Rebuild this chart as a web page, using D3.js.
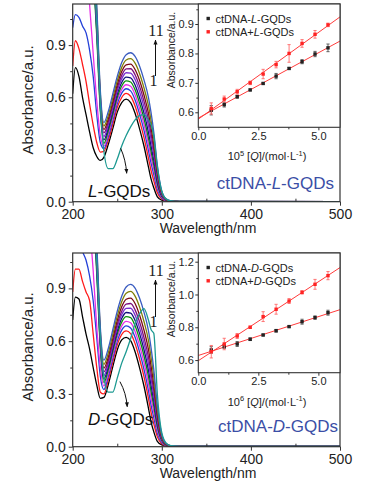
<!DOCTYPE html>
<html>
<head>
<meta charset="utf-8">
<script src="https://cdn.jsdelivr.net/npm/d3@7"></script>
<style>
  body { margin: 0; background: #fff; }
  svg { display: block; font-family: "Liberation Sans", Arial, sans-serif; }
</style>
</head>
<body>
<svg id="chart" width="366" height="497"></svg>
<script>
// wavelength grid (nm) shared by every spectrum
const wavelengths = [200, 203, 207, 211, 215, 219, 223, 227, 231, 235, 240, 245, 250, 255, 260, 265, 270, 275, 280, 285, 288, 291, 295, 300, 305, 310, 320, 500];

// ctDNA + L-GQDs titration, curves 1..11
const lCurves = [
  [0.62, 0.77, 0.72, 0.60, 0.50, 0.40, 0.31, 0.26, 0.237, 0.255, 0.33, 0.42, 0.515, 0.57, 0.589, 0.57, 0.508, 0.42, 0.32, 0.20, 0.13, 0.08, 0.028, 0.009, 0.004, 0.002, 0.001, 0.001],
  [0.78, 0.925, 0.88, 0.79, 0.69, 0.56, 0.44, 0.34, 0.285, 0.29, 0.354, 0.445, 0.541, 0.599, 0.622, 0.606, 0.55, 0.466, 0.368, 0.251, 0.178, 0.121, 0.051, 0.015, 0.005, 0.002, 0.001, 0.001],
  [1.0, 1.075, 1.06, 1.01, 0.97, 0.87, 0.72, 0.50, 0.34, 0.305, 0.375, 0.467, 0.563, 0.624, 0.649, 0.637, 0.585, 0.505, 0.41, 0.294, 0.22, 0.156, 0.071, 0.021, 0.006, 0.003, 0.001, 0.001],
  [1.7, 1.7, 1.65, 1.55, 1.38, 1.13, 0.85, 0.58, 0.38, 0.32, 0.392, 0.485, 0.582, 0.645, 0.672, 0.663, 0.615, 0.537, 0.444, 0.33, 0.254, 0.184, 0.087, 0.026, 0.007, 0.003, 0.001, 0.001],
  [1.7, 1.7, 1.7, 1.7, 1.65, 1.5, 1.3, 0.95, 0.52, 0.335, 0.408, 0.502, 0.599, 0.665, 0.694, 0.688, 0.643, 0.568, 0.477, 0.365, 0.287, 0.212, 0.103, 0.03, 0.008, 0.003, 0.001, 0.001],
  [1.7, 1.7, 1.7, 1.7, 1.66, 1.52, 1.33, 0.98, 0.54, 0.355, 0.425, 0.52, 0.617, 0.685, 0.716, 0.712, 0.671, 0.599, 0.509, 0.399, 0.319, 0.239, 0.119, 0.034, 0.009, 0.003, 0.001, 0.001],
  [1.7, 1.7, 1.7, 1.7, 1.67, 1.54, 1.36, 1.01, 0.56, 0.375, 0.442, 0.538, 0.636, 0.706, 0.741, 0.739, 0.702, 0.633, 0.545, 0.437, 0.355, 0.269, 0.136, 0.039, 0.01, 0.004, 0.002, 0.001],
  [1.7, 1.7, 1.7, 1.7, 1.68, 1.56, 1.39, 1.04, 0.58, 0.395, 0.459, 0.556, 0.654, 0.726, 0.763, 0.764, 0.73, 0.664, 0.578, 0.471, 0.388, 0.297, 0.151, 0.044, 0.011, 0.004, 0.002, 0.001],
  [1.7, 1.7, 1.7, 1.7, 1.69, 1.58, 1.42, 1.07, 0.60, 0.415, 0.477, 0.574, 0.673, 0.748, 0.787, 0.791, 0.76, 0.698, 0.613, 0.509, 0.423, 0.327, 0.168, 0.048, 0.012, 0.004, 0.002, 0.001],
  [1.7, 1.7, 1.7, 1.7, 1.7, 1.6, 1.45, 1.10, 0.62, 0.435, 0.497, 0.596, 0.695, 0.772, 0.814, 0.822, 0.796, 0.737, 0.654, 0.552, 0.464, 0.362, 0.188, 0.054, 0.013, 0.005, 0.002, 0.001],
  [1.7, 1.7, 1.7, 1.7, 1.7, 1.62, 1.48, 1.13, 0.64, 0.455, 0.52, 0.62, 0.72, 0.80, 0.845, 0.856, 0.835, 0.78, 0.70, 0.60, 0.51, 0.40, 0.21, 0.06, 0.015, 0.005, 0.002, 0.001]
];
const lFree = [1.7, 1.7, 1.7, 1.7, 1.7, 1.6, 1.4, 1.02, 0.56, 0.29, 0.19, 0.19, 0.245, 0.32, 0.38, 0.43, 0.47, 0.495, 0.50, 0.47, 0.44, 0.38, 0.20, 0.06, 0.015, 0.005, 0.002, 0.001];

// ctDNA + D-GQDs titration, curves 1..11
const dCurves = [
  [0.72, 0.85, 0.84, 0.74, 0.64, 0.555, 0.45, 0.35, 0.275, 0.28, 0.355, 0.455, 0.55, 0.607, 0.622, 0.603, 0.54, 0.45, 0.345, 0.22, 0.14, 0.085, 0.03, 0.01, 0.004, 0.002, 0.001, 0.001],
  [0.88, 1.01, 1.01, 0.94, 0.88, 0.83, 0.64, 0.45, 0.31, 0.30, 0.381, 0.481, 0.578, 0.638, 0.658, 0.643, 0.586, 0.50, 0.398, 0.275, 0.193, 0.13, 0.056, 0.017, 0.005, 0.002, 0.001, 0.001],
  [1.3, 1.25, 1.18, 1.11, 1.06, 0.97, 0.83, 0.62, 0.40, 0.325, 0.401, 0.502, 0.60, 0.663, 0.687, 0.675, 0.622, 0.539, 0.44, 0.319, 0.235, 0.165, 0.076, 0.023, 0.006, 0.003, 0.001, 0.001],
  [1.7, 1.7, 1.65, 1.55, 1.42, 1.25, 1.0, 0.68, 0.45, 0.345, 0.42, 0.522, 0.62, 0.686, 0.713, 0.705, 0.655, 0.576, 0.479, 0.36, 0.274, 0.198, 0.095, 0.029, 0.008, 0.003, 0.001, 0.001],
  [1.7, 1.7, 1.7, 1.7, 1.65, 1.5, 1.35, 0.98, 0.56, 0.365, 0.439, 0.541, 0.64, 0.708, 0.739, 0.734, 0.688, 0.612, 0.517, 0.40, 0.312, 0.23, 0.114, 0.034, 0.009, 0.003, 0.001, 0.001],
  [1.7, 1.7, 1.7, 1.7, 1.66, 1.52, 1.38, 1.01, 0.58, 0.385, 0.456, 0.558, 0.658, 0.729, 0.763, 0.76, 0.718, 0.644, 0.552, 0.436, 0.347, 0.26, 0.131, 0.039, 0.01, 0.004, 0.002, 0.001],
  [1.7, 1.7, 1.7, 1.7, 1.67, 1.54, 1.41, 1.04, 0.60, 0.405, 0.473, 0.576, 0.677, 0.75, 0.786, 0.787, 0.748, 0.677, 0.587, 0.473, 0.382, 0.289, 0.148, 0.043, 0.011, 0.004, 0.002, 0.001],
  [1.7, 1.7, 1.7, 1.7, 1.68, 1.56, 1.44, 1.07, 0.62, 0.425, 0.49, 0.593, 0.695, 0.77, 0.81, 0.814, 0.778, 0.71, 0.621, 0.51, 0.416, 0.319, 0.165, 0.048, 0.012, 0.004, 0.002, 0.001],
  [1.7, 1.7, 1.7, 1.7, 1.69, 1.58, 1.47, 1.10, 0.64, 0.447, 0.51, 0.614, 0.717, 0.795, 0.838, 0.845, 0.814, 0.749, 0.663, 0.553, 0.458, 0.354, 0.185, 0.054, 0.013, 0.005, 0.002, 0.001],
  [1.7, 1.7, 1.7, 1.7, 1.7, 1.6, 1.5, 1.13, 0.66, 0.468, 0.534, 0.639, 0.742, 0.824, 0.872, 0.883, 0.856, 0.795, 0.712, 0.605, 0.507, 0.395, 0.209, 0.061, 0.015, 0.005, 0.002, 0.001],
  [1.7, 1.7, 1.7, 1.7, 1.7, 1.62, 1.53, 1.16, 0.68, 0.492, 0.56, 0.665, 0.77, 0.855, 0.908, 0.923, 0.902, 0.845, 0.765, 0.66, 0.56, 0.44, 0.235, 0.068, 0.017, 0.006, 0.002, 0.001]
];
const dFree = [1.7, 1.7, 1.7, 1.7, 1.7, 1.6, 1.42, 1.05, 0.62, 0.40, 0.31, 0.31, 0.39, 0.475, 0.54, 0.615, 0.70, 0.755, 0.785, 0.72, 0.665, 0.645, 0.30, 0.08, 0.02, 0.006, 0.002, 0.001];

const curveColors = ["#000000", "#ff1a1a", "#2340d8", "#e62ee6", "#0a8f0a", "#10107a", "#7a2fd0", "#7d0f7d", "#7a0a14", "#7f7f08", "#3a5cc0"];
const freeColor = "#1e9a92";

// insets: absorbance vs concentration
const conc = [0.54, 1.08, 1.62, 2.16, 2.70, 3.24, 3.78, 4.32, 4.86, 5.40];
const lBound = [0.607, 0.626, 0.653, 0.676, 0.698, 0.723, 0.749, 0.772, 0.798, 0.819];
const lBoundErr = [0.016, 0.008, 0.005, 0.003, 0.003, 0.009, 0.003, 0.007, 0.009, 0.013];
const lMixed = [0.613, 0.645, 0.670, 0.700, 0.730, 0.762, 0.800, 0.834, 0.865, 0.897];
const lMixedErr = [0.019, 0.010, 0.008, 0.006, 0.016, 0.011, 0.03, 0.013, 0.013, 0.006];
const dBound = [0.662, 0.682, 0.698, 0.727, 0.753, 0.779, 0.804, 0.834, 0.859, 0.889];
const dBoundErr = [0.02, 0.01, 0.015, 0.008, 0.005, 0.008, 0.005, 0.015, 0.01, 0.015];
const dMixed = [0.651, 0.698, 0.747, 0.800, 0.865, 0.910, 0.960, 1.013, 1.062, 1.115];
const dMixedErr = [0.038, 0.035, 0.015, 0.007, 0.03, 0.03, 0.015, 0.01, 0.03, 0.025];

const svg = d3.select("#chart");
const defs = svg.append("defs");
defs.append("marker").attr("id", "head").attr("viewBox", "0 0 10 10")
  .attr("refX", 9).attr("refY", 5).attr("markerWidth", 5).attr("markerHeight", 5)
  .attr("orient", "auto-start-reverse")
  .append("path").attr("d", "M0,1L10,5L0,9z").attr("fill", "#111");

function styleAxis(sel, size) {
  sel.select(".domain").remove();
  sel.selectAll("line").attr("stroke", "#333");
  sel.selectAll("text").attr("font-size", size).attr("fill", "#222");
}

function fit(xs, ys) {
  const mx = d3.mean(xs), my = d3.mean(ys);
  const b = d3.sum(xs, (v, i) => (v - mx) * (ys[i] - my)) / d3.sum(xs, v => (v - mx) * (v - mx));
  return { b, a: my - b * mx };
}

function drawInset(p, idx) {
  const x = d3.scaleLinear().domain([0, 5.9]).range([198.3, 340]);
  const y = d3.scaleLinear().domain(p.yDomain).range([p.bottom, p.top]);
  const g = svg.append("g");
  g.append("rect").attr("x", 198.3).attr("y", p.top).attr("width", 340 - 198.3)
    .attr("height", p.bottom - p.top).attr("fill", "#fff");

  const clipId = "iclip" + idx;
  defs.append("clipPath").attr("id", clipId).append("rect")
    .attr("x", 198.3).attr("y", p.top).attr("width", 340 - 198.3).attr("height", p.bottom - p.top);
  const plot = g.append("g").attr("clip-path", `url(#${clipId})`);

  const series = [
    { vals: p.bound, err: p.boundErr, color: "#222", errColor: "#555" },
    { vals: p.mixed, err: p.mixedErr, color: "#ff2323", errColor: "#ff6a6a" }
  ];
  series.forEach(s => {
    const f = fit(conc, s.vals);
    plot.append("line")
      .attr("x1", x(0)).attr("y1", y(f.a))
      .attr("x2", x(5.9)).attr("y2", y(f.a + f.b * 5.9))
      .attr("stroke", "#ff3b3b").attr("stroke-width", 1);
  });
  series.forEach(s => {
    const pts = plot.append("g");
    conc.forEach((c, i) => {
      const cx = x(c), lo = y(s.vals[i] - s.err[i]), hi = y(s.vals[i] + s.err[i]);
      pts.append("line").attr("x1", cx).attr("x2", cx).attr("y1", lo).attr("y2", hi)
        .attr("stroke", s.errColor).attr("stroke-width", 0.9);
      [lo, hi].forEach(v => pts.append("line").attr("x1", cx - 1.6).attr("x2", cx + 1.6)
        .attr("y1", v).attr("y2", v).attr("stroke", s.errColor).attr("stroke-width", 0.9));
      pts.append("rect").attr("x", cx - 1.7).attr("y", y(s.vals[i]) - 1.7)
        .attr("width", 3.4).attr("height", 3.4).attr("fill", s.color);
    });
  });

  // axes
  g.append("g").attr("transform", `translate(0,${p.bottom})`)
    .call(d3.axisBottom(x).tickValues([0, 2.5, 5.0]).tickSize(3).tickPadding(2).tickFormat(d3.format(".1f")))
    .call(a => styleAxis(a, 11));
  g.append("g").attr("transform", `translate(0,${p.bottom})`)
    .call(d3.axisBottom(x).tickValues([1.25, 3.75]).tickSize(2).tickFormat(""))
    .call(a => styleAxis(a, 11));
  g.append("g").attr("transform", "translate(198.3,0)")
    .call(d3.axisLeft(y).tickValues(p.yTicks).tickSize(3).tickPadding(1.5).tickFormat(d3.format(".1f")))
    .call(a => styleAxis(a, 11));
  g.append("g").attr("transform", "translate(198.3,0)")
    .call(d3.axisLeft(y).tickValues(p.yMinor).tickSize(2).tickFormat(""))
    .call(a => styleAxis(a, 11));
  g.append("rect").attr("x", 198.3).attr("y", p.top).attr("width", 340 - 198.3)
    .attr("height", p.bottom - p.top).attr("fill", "none").attr("stroke", "#333").attr("stroke-width", 1.1);

  // axis titles
  g.append("text").attr("transform", `translate(175,${p.top + 46}) rotate(-90)`)
    .attr("text-anchor", "middle").attr("font-size", 10.5).attr("fill", "#222").text("Absorbance/a.u.");
  const xt = g.append("text").attr("x", 267).attr("y", p.bottom + 33)
    .attr("text-anchor", "middle").attr("font-size", 11).attr("fill", "#222");
  xt.append("tspan").text("10");
  xt.append("tspan").attr("font-size", 7.5).attr("dy", -4.5).text(p.power);
  xt.append("tspan").attr("dy", 4.5).text(" [");
  xt.append("tspan").attr("font-style", "italic").text("Q");
  xt.append("tspan").text("]/(mol·L");
  xt.append("tspan").attr("font-size", 7.5).attr("dy", -4.5).text("-1");
  xt.append("tspan").attr("dy", 4.5).text(")");

  // legend
  const legend = [
    { color: "#222", pre: "ctDNA-", mid: p.letter, post: "-GQDs" },
    { color: "#ff2323", pre: "ctDNA+", mid: p.letter, post: "-GQDs" }
  ];
  legend.forEach((l, i) => {
    const ly = p.top + 14.5 + i * 13.3;
    g.append("rect").attr("x", 206.5).attr("y", ly - 1.7).attr("width", 3.4).attr("height", 3.4).attr("fill", l.color);
    const t = g.append("text").attr("x", 215.5).attr("y", ly + 4).attr("font-size", 11).attr("fill", "#222");
    t.append("tspan").text(l.pre);
    t.append("tspan").attr("font-style", "italic").text(l.mid);
    t.append("tspan").text(l.post);
  });
}

function drawPanel(p, idx) {
  const x = d3.scaleLinear().domain([200, 500]).range([72.7, 340]);
  const y = d3.scaleLinear().domain([0, p.yMax]).range([p.bottom, p.top]);
  const g = svg.append("g");

  const clipId = "clip" + idx;
  defs.append("clipPath").attr("id", clipId).append("rect")
    .attr("x", 72.7).attr("y", p.top).attr("width", 340 - 72.7).attr("height", p.bottom - p.top);
  const plot = g.append("g").attr("clip-path", `url(#${clipId})`);
  const line = d3.line()
    .x((d, i) => x(wavelengths[i]))
    .y(d => y(d))
    .curve(d3.curveMonotoneX);

  p.curves.forEach((c, i) => {
    plot.append("path").attr("d", line(c)).attr("fill", "none")
      .attr("stroke", curveColors[i]).attr("stroke-width", 1.3);
  });
  plot.append("path").attr("d", line(p.free)).attr("fill", "none")
    .attr("stroke", freeColor).attr("stroke-width", 1.3);

  // axes
  g.append("g").attr("transform", `translate(0,${p.bottom})`)
    .call(d3.axisBottom(x).tickValues([200, 300, 400, 500]).tickSize(4).tickPadding(3).tickFormat(d3.format("d")))
    .call(a => styleAxis(a, 14));
  g.append("g").attr("transform", `translate(0,${p.bottom})`)
    .call(d3.axisBottom(x).tickValues([250, 350, 450]).tickSize(-3).tickFormat(""))
    .call(a => styleAxis(a, 14));
  g.append("g").attr("transform", "translate(72.7,0)")
    .call(d3.axisLeft(y).tickValues([0, 0.3, 0.6, 0.9]).tickSize(4).tickPadding(3).tickFormat(d3.format(".1f")))
    .call(a => styleAxis(a, 14));
  g.append("g").attr("transform", "translate(72.7,0)")
    .call(d3.axisLeft(y).tickValues([0.15, 0.45, 0.75, 1.05]).tickSize(2.5).tickFormat(""))
    .call(a => styleAxis(a, 14));
  g.append("rect").attr("x", 72.7).attr("y", p.top).attr("width", 340 - 72.7)
    .attr("height", p.bottom - p.top).attr("fill", "none").attr("stroke", "#333").attr("stroke-width", 1.2);

  g.append("text").attr("x", 208).attr("y", p.bottom + 31).attr("text-anchor", "middle")
    .attr("font-size", 14).attr("fill", "#222").text("Wavelength/nm");
  g.append("text").attr("transform", `translate(33,${(p.top + p.bottom) / 2 - 3}) rotate(-90)`)
    .attr("text-anchor", "middle").attr("font-size", 15).attr("fill", "#222").text("Absorbance/a.u.");

  // curve numbering arrow
  g.append("line").attr("x1", 155.5).attr("x2", 155.5).attr("y1", p.top + p.arrowFrom).attr("y2", p.top + p.arrowTo)
    .attr("stroke", "#111").attr("stroke-width", 1).attr("marker-end", "url(#head)");
  g.append("text").attr("x", 156).attr("y", p.top + p.arrowTo - 4).attr("text-anchor", "middle")
    .attr("font-family", '"Liberation Serif", "Times New Roman", serif').attr("font-size", 16).attr("fill", "#222").text("11");
  g.append("text").attr("x", 153.5).attr("y", p.top + p.arrowFrom + 10).attr("text-anchor", "middle")
    .attr("font-family", '"Liberation Serif", "Times New Roman", serif').attr("font-size", 16).attr("fill", "#222").text("1");

  // arrow from free GQDs curve to its label
  const [s, e] = p.freeArrow;
  const sx = x(s[0]), sy = y(s[1]), ex = x(e[0]), ey = y(e[1]);
  g.append("path").attr("d", `M${sx},${sy}Q${ex - 1},${sy + (ey - sy) * 0.45} ${ex},${ey}`)
    .attr("fill", "none").attr("stroke", "#111").attr("stroke-width", 1).attr("marker-end", "url(#head)");

  const lab = g.append("text").attr("x", 88).attr("y", p.freeLabelY).attr("font-size", 17).attr("fill", "#111");
  lab.append("tspan").attr("font-style", "italic").text(p.letter);
  lab.append("tspan").text("-GQDs");

  const title = g.append("text").attr("x", p.titleX).attr("y", p.titleY).attr("text-anchor", "end")
    .attr("font-size", 17).attr("fill", "#3b4ea6");
  title.append("tspan").text("ctDNA-");
  title.append("tspan").attr("font-style", "italic").text(p.letter);
  title.append("tspan").text("-GQDs");

  drawInset(p.inset, idx);
}

drawPanel({
  top: 4, bottom: 201.7, yMax: (201.7 - 4) / 174,
  curves: lCurves, free: lFree, letter: "L",
  arrowFrom: 72, arrowTo: 36,
  freeArrow: [[253.8, 0.307], [260.6, 0.163]],
  freeLabelY: 196.5, titleX: 334, titleY: 188.5,
  inset: {
    top: 4, bottom: 127.3, yDomain: [0.549, 0.968],
    yTicks: [0.6, 0.7, 0.8, 0.9], yMinor: [0.65, 0.75, 0.85, 0.95],
    bound: lBound, boundErr: lBoundErr, mixed: lMixed, mixedErr: lMixedErr,
    letter: "L", power: "5"
  }
}, 0);

drawPanel({
  top: 253, bottom: 446.7, yMax: (446.7 - 253) / 175.9,
  curves: dCurves, free: dFree, letter: "D",
  arrowFrom: 64, arrowTo: 27,
  freeArrow: [[253, 0.37], [261.2, 0.227]],
  freeLabelY: 425, titleX: 338, titleY: 431.5,
  inset: {
    top: 253, bottom: 372.7, yDomain: [0.523, 1.253],
    yTicks: [0.6, 0.8, 1.0, 1.2], yMinor: [0.7, 0.9, 1.1],
    bound: dBound, boundErr: dBoundErr, mixed: dMixed, mixedErr: dMixedErr,
    letter: "D", power: "6"
  }
}, 1);
</script>
</body>
</html>
